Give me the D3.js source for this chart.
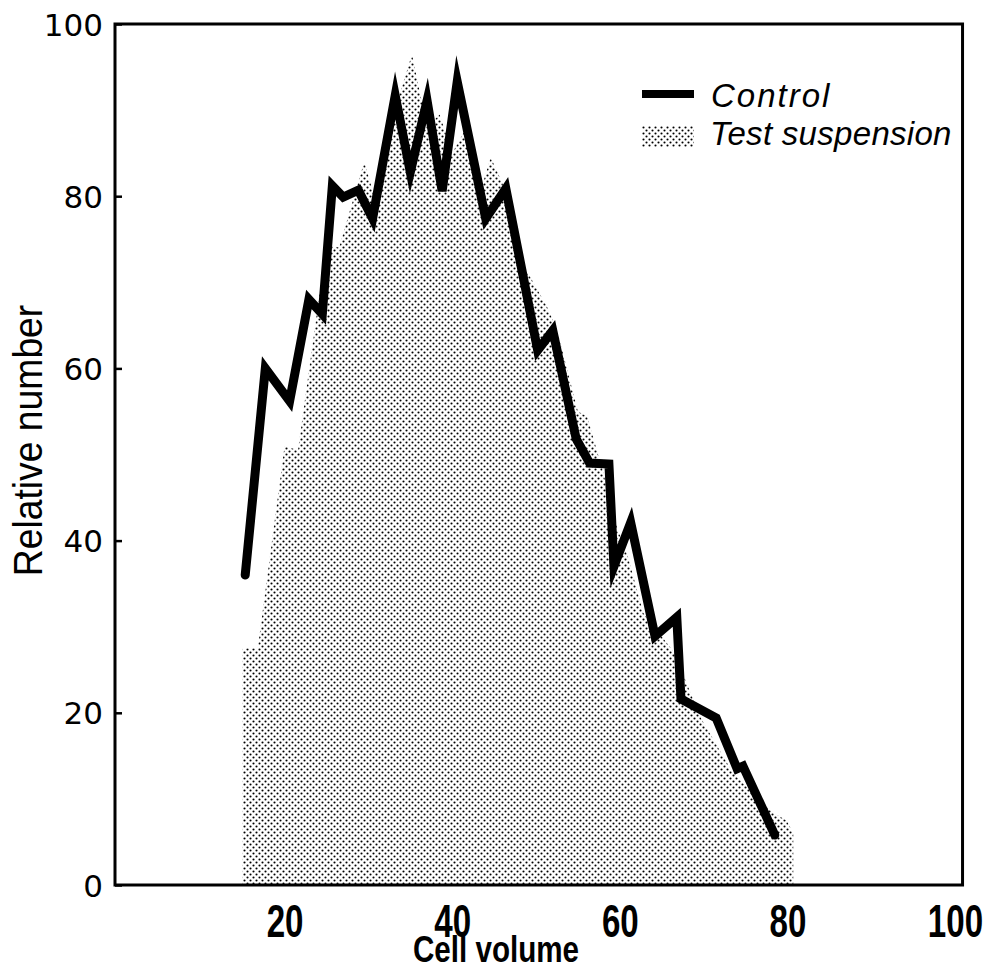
<!DOCTYPE html>
<html>
<head>
<meta charset="utf-8">
<script src="https://cdn.jsdelivr.net/npm/d3@7"></script>
<style>
  body { margin: 0; background: #fff; }
  svg { display: block; }
</style>
</head>
<body>
<div id="chart"></div>
<script>
// data
var controlX = [15.3, 17.7, 20.6, 22.9, 24.5, 25.7, 27.0, 28.8, 30.5, 33.2, 35.0, 37.0, 38.8, 40.6, 44.0, 46.4,
  50.2, 52.0, 54.8, 56.4, 58.7, 59.3, 61.3, 64.2, 66.8, 67.3, 71.5, 74.0, 74.7, 78.5];
var controlY = [36.0, 60.0, 56.2, 68.0, 66.3, 81.2, 79.9, 80.7, 77.4, 91.7, 82.8, 91.1, 80.6, 93.3, 77.4, 80.9,
  62.1, 64.4, 51.8, 49.0, 48.9, 37.0, 42.1, 28.9, 31.1, 21.6, 19.4, 13.5, 13.8, 5.8];

var testX = [15, 16.8, 20.0, 21.6, 25.0, 26.5, 29.5, 31.0, 33.0, 35.2, 37.0, 38.5, 40.0, 42.0, 43.5, 44.6,
  46.0, 48.5, 51.3, 52.5, 55.0, 56.1, 58.0, 59.5, 61.0, 62.8, 66.5, 69.6, 73.5, 78.3, 79.9, 80.7];
var testY = [27.5, 27.5, 51.0, 50.5, 74.5, 74.0, 84.0, 79.0, 89.5, 96.5, 88.0, 89.5, 85.0, 88.5, 81.0, 84.5,
  81.5, 72.0, 67.2, 64.5, 55.0, 54.4, 48.0, 42.0, 38.0, 31.6, 27.0, 19.5, 13.0, 8.4, 7.5, 6.0];

var xTicks = [20, 40, 60, 80, 100];
var yTicks = [0, 20, 40, 60, 80, 100];

var svgWidth = 993, svgHeight = 969;
var svg = d3.select("#chart").append("svg")
  .attr("width", svgWidth)
  .attr("height", svgHeight);

// halftone dot pattern for the test suspension
var defs = svg.append("defs");
var pat = defs.append("pattern")
  .attr("id", "dots")
  .attr("patternUnits", "userSpaceOnUse")
  .attr("width", 6)
  .attr("height", 6);
pat.append("circle").attr("cx", 1.5).attr("cy", 1.5).attr("r", 1.05).attr("fill", "#000");
pat.append("circle").attr("cx", 4.5).attr("cy", 4.5).attr("r", 1.05).attr("fill", "#000");

var xScale = d3.scaleLinear().domain([0, 100]).range([117, 955]);
var yScale = d3.scaleLinear().domain([0, 100]).range([885, 24]);

// test suspension area
var testData = testX.map(function(x, i) { return { x: x, y: testY[i] }; });
var area = d3.area()
  .x(function(d) { return xScale(d.x); })
  .y0(yScale(0))
  .y1(function(d) { return yScale(d.y); });
svg.append("path")
  .datum(testData)
  .attr("d", area)
  .attr("fill", "url(#dots)");

// control line
var controlData = controlX.map(function(x, i) { return { x: x, y: controlY[i] }; });
var line = d3.line()
  .x(function(d) { return xScale(d.x); })
  .y(function(d) { return yScale(d.y); });
svg.append("path")
  .datum(controlData)
  .attr("d", line)
  .attr("fill", "none")
  .attr("stroke", "#000")
  .attr("stroke-width", 9)
  .attr("stroke-linejoin", "miter")
  .attr("stroke-miterlimit", 6)
  .attr("stroke-linecap", "round");

// frame
svg.append("rect")
  .attr("x", xScale(0) - 2)
  .attr("y", yScale(100))
  .attr("width", xScale(100.9) - xScale(0) + 2)
  .attr("height", yScale(0) - yScale(100))
  .attr("fill", "none")
  .attr("stroke", "#000")
  .attr("stroke-width", 3);

// y axis
var yAxis = d3.axisRight(yScale).tickValues(yTicks).tickSize(7).tickFormat(d3.format("d"));
var yg = svg.append("g")
  .attr("transform", "translate(" + (xScale(0) - 2) + ",0)")
  .call(yAxis);
yg.select(".domain").remove();
yg.selectAll(".tick line").attr("stroke-width", 2.5);
yg.selectAll(".tick text")
  .attr("x", -12)
  .attr("text-anchor", "end")
  .attr("dy", "0.36em")
  .style("font-family", "'DejaVu Sans', sans-serif")
  .style("font-size", "31px");

// x axis labels (condensed look by squeezing horizontally)
var xAxis = d3.axisBottom(xScale).tickValues(xTicks).tickSize(0).tickFormat(d3.format("d"));
var xg = svg.append("g")
  .attr("transform", "translate(0," + yScale(0) + ")")
  .call(xAxis);
xg.select(".domain").remove();
xg.selectAll(".tick text")
  .attr("y", 52)
  .attr("dy", 0)
  .attr("transform", "scale(0.72,1)")
  .style("font-family", "'Liberation Sans', sans-serif")
  .style("font-weight", "bold")
  .style("font-size", "46px");

// axis titles
svg.append("text")
  .attr("transform", "translate(496,962) scale(0.8,1)")
  .attr("text-anchor", "middle")
  .style("font-family", "'Liberation Sans', sans-serif")
  .style("font-weight", "bold")
  .style("font-size", "37px")
  .text("Cell volume");

svg.append("text")
  .attr("transform", "translate(42," + ((yScale(0) + yScale(100)) / 2 - 14) + ") rotate(-90) scale(0.91,1)")
  .attr("text-anchor", "middle")
  .style("font-family", "'Liberation Sans', sans-serif")
  .style("font-size", "41px")
  .text("Relative number");

// legend
var legend = svg.append("g");
legend.append("line")
  .attr("x1", 642).attr("x2", 694)
  .attr("y1", 94).attr("y2", 94)
  .attr("stroke", "#000")
  .attr("stroke-width", 8);
legend.append("rect")
  .attr("x", 642).attr("y", 126)
  .attr("width", 52).attr("height", 21)
  .attr("fill", "url(#dots)");
legend.append("text")
  .attr("x", 711).attr("y", 107)
  .style("font-family", "'Liberation Sans', sans-serif")
  .style("font-style", "italic")
  .style("font-size", "33px")
  .style("letter-spacing", "2px")
  .text("Control");
legend.append("text")
  .attr("x", 710).attr("y", 145)
  .style("font-family", "'Liberation Sans', sans-serif")
  .style("font-style", "italic")
  .style("font-size", "33px")
  .style("letter-spacing", "0.3px")
  .text("Test suspension");
</script>
</body>
</html>
